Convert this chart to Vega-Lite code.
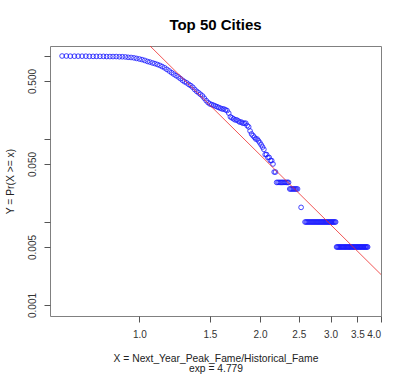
{
  "$schema": "https://vega.github.io/schema/vega-lite/v6.json",
  "autosize": "none",
  "width": 331,
  "height": 270,
  "padding": {"left": 50, "top": 46, "right": 26, "bottom": 58},
  "background": "white",
  "title": {"text": "Top 50 Cities", "fontSize": 15, "fontWeight": "bold", "font": "Liberation Sans", "color": "#000000", "anchor": "middle", "offset": 13},
  "config": {
    "view": {"stroke": "#808080", "strokeWidth": 1},
    "axis": {"grid": false, "labelFont": "Liberation Sans", "titleFont": "Liberation Sans", "labelFontSize": 10, "titleFontSize": 10.3, "titleFontWeight": "normal", "labelColor": "#333333", "titleColor": "#222222", "tickColor": "#555555", "domainColor": "#666666", "tickSize": 6}
  },
  "datasets": {
    "ccdf": [
      {"x":0.641,"y":1.000},{"x":0.657,"y":1.000},{"x":0.672,"y":0.995},{"x":0.688,"y":0.995},{"x":0.703,"y":0.995},{"x":0.719,"y":0.995},{"x":0.735,"y":0.995},{"x":0.750,"y":0.990},{"x":0.766,"y":0.990},{"x":0.781,"y":0.990},
      {"x":0.797,"y":0.990},{"x":0.813,"y":0.990},{"x":0.828,"y":0.985},{"x":0.844,"y":0.985},{"x":0.859,"y":0.985},{"x":0.875,"y":0.985},{"x":0.891,"y":0.980},{"x":0.906,"y":0.980},{"x":0.922,"y":0.975},{"x":0.937,"y":0.965},
      {"x":0.953,"y":0.960},{"x":0.969,"y":0.950},{"x":0.984,"y":0.935},{"x":1.000,"y":0.920},{"x":1.015,"y":0.905},{"x":1.031,"y":0.885},{"x":1.047,"y":0.860},{"x":1.062,"y":0.845},{"x":1.078,"y":0.825},{"x":1.093,"y":0.810},
      {"x":1.109,"y":0.790},{"x":1.125,"y":0.770},{"x":1.140,"y":0.745},{"x":1.156,"y":0.720},{"x":1.171,"y":0.690},{"x":1.187,"y":0.660},{"x":1.203,"y":0.630},{"x":1.218,"y":0.605},{"x":1.234,"y":0.580},{"x":1.250,"y":0.560},
      {"x":1.265,"y":0.535},{"x":1.281,"y":0.510},{"x":1.296,"y":0.490},{"x":1.312,"y":0.475},{"x":1.328,"y":0.455},{"x":1.343,"y":0.440},{"x":1.359,"y":0.420},{"x":1.374,"y":0.395},{"x":1.390,"y":0.375},{"x":1.406,"y":0.360},
      {"x":1.421,"y":0.345},{"x":1.437,"y":0.330},{"x":1.452,"y":0.310},{"x":1.468,"y":0.290},{"x":1.484,"y":0.275},{"x":1.499,"y":0.265},{"x":1.515,"y":0.260},{"x":1.531,"y":0.255},{"x":1.546,"y":0.250},{"x":1.562,"y":0.245},
      {"x":1.577,"y":0.240},{"x":1.593,"y":0.235},{"x":1.609,"y":0.230},{"x":1.624,"y":0.230},{"x":1.640,"y":0.225},{"x":1.655,"y":0.220},{"x":1.671,"y":0.205},{"x":1.687,"y":0.185},{"x":1.702,"y":0.180},{"x":1.718,"y":0.175},
      {"x":1.733,"y":0.170},{"x":1.749,"y":0.170},{"x":1.765,"y":0.165},{"x":1.780,"y":0.160},{"x":1.796,"y":0.160},{"x":1.811,"y":0.155},{"x":1.827,"y":0.155},{"x":1.843,"y":0.155},{"x":1.858,"y":0.145},{"x":1.874,"y":0.140},
      {"x":1.889,"y":0.125},{"x":1.905,"y":0.115},{"x":1.921,"y":0.110},{"x":1.936,"y":0.105},{"x":1.952,"y":0.100},{"x":1.967,"y":0.100},{"x":1.983,"y":0.095},{"x":1.999,"y":0.090},{"x":2.014,"y":0.085},{"x":2.030,"y":0.080},
      {"x":2.045,"y":0.075},{"x":2.061,"y":0.065},{"x":2.077,"y":0.065},{"x":2.092,"y":0.060},{"x":2.108,"y":0.060},{"x":2.123,"y":0.055},{"x":2.139,"y":0.055},{"x":2.155,"y":0.050},{"x":2.170,"y":0.040},{"x":2.186,"y":0.040},
      {"x":2.201,"y":0.030},{"x":2.217,"y":0.030},{"x":2.232,"y":0.030},{"x":2.248,"y":0.030},{"x":2.264,"y":0.030},{"x":2.279,"y":0.030},{"x":2.295,"y":0.030},{"x":2.310,"y":0.030},{"x":2.326,"y":0.030},{"x":2.342,"y":0.030},
      {"x":2.357,"y":0.030},{"x":2.373,"y":0.025},{"x":2.388,"y":0.025},{"x":2.404,"y":0.025},{"x":2.420,"y":0.025},{"x":2.435,"y":0.025},{"x":2.451,"y":0.025},{"x":2.466,"y":0.025},{"x":2.482,"y":0.025},{"x":2.533,"y":0.015},
      {"x":2.591,"y":0.010},{"x":2.607,"y":0.010},{"x":2.622,"y":0.010},{"x":2.638,"y":0.010},{"x":2.653,"y":0.010},{"x":2.669,"y":0.010},{"x":2.685,"y":0.010},{"x":2.700,"y":0.010},{"x":2.716,"y":0.010},{"x":2.731,"y":0.010},
      {"x":2.747,"y":0.010},{"x":2.763,"y":0.010},{"x":2.778,"y":0.010},{"x":2.794,"y":0.010},{"x":2.809,"y":0.010},{"x":2.825,"y":0.010},{"x":2.841,"y":0.010},{"x":2.856,"y":0.010},{"x":2.872,"y":0.010},{"x":2.887,"y":0.010},
      {"x":2.903,"y":0.010},{"x":2.919,"y":0.010},{"x":2.934,"y":0.010},{"x":2.950,"y":0.010},{"x":2.965,"y":0.010},{"x":2.981,"y":0.010},{"x":2.997,"y":0.010},{"x":3.012,"y":0.010},{"x":3.028,"y":0.010},{"x":3.043,"y":0.010},
      {"x":3.059,"y":0.010},{"x":3.075,"y":0.010},{"x":3.090,"y":0.010},{"x":3.106,"y":0.005},{"x":3.121,"y":0.005},{"x":3.137,"y":0.005},{"x":3.153,"y":0.005},{"x":3.168,"y":0.005},{"x":3.184,"y":0.005},{"x":3.199,"y":0.005},
      {"x":3.215,"y":0.005},{"x":3.231,"y":0.005},{"x":3.246,"y":0.005},{"x":3.262,"y":0.005},{"x":3.277,"y":0.005},{"x":3.293,"y":0.005},{"x":3.309,"y":0.005},{"x":3.324,"y":0.005},{"x":3.340,"y":0.005},{"x":3.355,"y":0.005},
      {"x":3.371,"y":0.005},{"x":3.387,"y":0.005},{"x":3.402,"y":0.005},{"x":3.418,"y":0.005},{"x":3.433,"y":0.005},{"x":3.449,"y":0.005},{"x":3.465,"y":0.005},{"x":3.480,"y":0.005},{"x":3.496,"y":0.005},{"x":3.511,"y":0.005},
      {"x":3.527,"y":0.005},{"x":3.543,"y":0.005},{"x":3.558,"y":0.005},{"x":3.574,"y":0.005},{"x":3.589,"y":0.005},{"x":3.605,"y":0.005},{"x":3.621,"y":0.005},{"x":3.636,"y":0.005},{"x":3.652,"y":0.005},{"x":3.667,"y":0.005},
      {"x":3.683,"y":0.005},{"x":3.699,"y":0.005},{"x":3.714,"y":0.005}
    ],
    "fit": [
      {"x": 1.063, "y": 1.32},
      {"x": 4.01, "y": 0.00233}
    ]
  },
  "layer": [
    {
      "data": {"name": "ccdf"},
      "mark": {"type": "point", "shape": "circle", "filled": false, "stroke": "#1a1aff", "strokeWidth": 0.9, "size": 22, "opacity": 0.9},
      "encoding": {
        "x": {"field": "x", "type": "quantitative", "scale": {"type": "log", "domain": [0.598, 4.01], "nice": false, "zero": false},
          "axis": {"values": [1, 1.5, 2, 2.5, 3, 3.5, 4], "format": ".1f", "labelPadding": 7, "domain": false,
            "title": ["X = Next_Year_Peak_Fame/Historical_Fame", "exp = 4.779"], "titlePadding": 14, "titleLineHeight": 10}},
        "y": {"field": "y", "type": "quantitative", "scale": {"type": "log", "domain": [0.000737, 1.32], "nice": false, "zero": false},
          "axis": {"values": [0.001, 0.005, 0.01, 0.05, 0.1, 0.5, 1], "format": ".3f", "domain": false,
            "labelExpr": "(datum.label == '0.001' || datum.label == '0.005' || datum.label == '0.050' || datum.label == '0.500') ? datum.label : ''",
            "labelAngle": -90, "labelAlign": "center", "labelBaseline": "bottom", "labelPadding": 7,
            "title": "Y = Pr(X >= x)", "titlePadding": 12}}
      }
    },
    {
      "data": {"name": "fit"},
      "mark": {"type": "line", "color": "#ee2a2a", "strokeWidth": 0.8, "clip": true},
      "encoding": {
        "x": {"field": "x", "type": "quantitative"},
        "y": {"field": "y", "type": "quantitative"}
      }
    }
  ]
}
